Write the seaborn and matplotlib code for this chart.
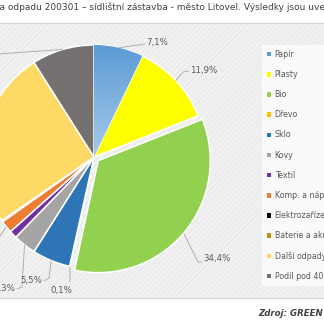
import matplotlib
matplotlib.use("Agg")
import matplotlib.pyplot as plt
from matplotlib.patches import Rectangle, Patch
import numpy as np
import seaborn as sns

# Waste composition, sample of code 200301 (housing estate, Litovel)
categories = ["Papír", "Plasty", "Bio", "Dřevo", "Sklo", "Kovy", "Textil",
              "Komp. a nápojové kartony", "Elektrozařízení",
              "Baterie a akumulátory", "Další odpady", "Podíl pod 40 mm"]
shares = [7.1, 11.9, 34.4, 0.1, 5.5, 3.3, 1.1, 1.8, 0.1, 0.1, 25.6, 9.0]
slice_colors = ["#5B9BD5", "#FFFF00", "#92D050", "#FFC000", "#2E75B6", "#A5A5A5",
                "#7030A0", "#ED7D31", "#000000", "#BF9000", "#FFD966", "#767171"]
explode_frac = [0, 0, 0.05, 0, 0, 0, 0, 0, 0, 0, 0, 0]

title_prefix = "Složení odpadu katalogového čísl"
title_text = (title_prefix + "a odpadu 200301 – sídlištní zástavba - město Litovel. "
              "Výsledky jsou uvedeny v hmotnostních %.")
source_text = "Zdroj: GREEN"

sns.set_theme(style="white")
plt.rcParams["font.family"] = ["DejaVu Sans"]
plt.rcParams["hatch.linewidth"] = 0.35
plt.rcParams["hatch.color"] = "#E1E1E1"

palette = sns.color_palette(slice_colors)

W = H = 324
fig = plt.figure(figsize=(W / 100, H / 100), dpi=100)
fig.patch.set_facecolor("white")
ax = fig.add_axes([0, 0, 1, 1])

# chart area with fine diagonal texture
ax.add_patch(Rectangle((-5, 23), W + 10, 275, facecolor="#F1F1F1", hatch="//////",
                       edgecolor="#E1E1E1", linewidth=0, zorder=0))
ax.add_patch(Rectangle((-5, 23), W + 10, 275, facecolor="none",
                       edgecolor="#D4D4D4", linewidth=0.8, zorder=0.5))

cx, cy, R = 94, 157, 112
wedges, _ = ax.pie(shares, colors=palette, explode=[e * R for e in explode_frac],
                   startangle=-90, counterclock=True, center=(cx, cy), radius=R,
                   wedgeprops=dict(edgecolor="white", linewidth=1.1), frame=True)
for w in wedges:
    w.set_zorder(2)

# soft vertical gradient on the paper slice
pw = wedges[0]
x0, x1 = cx, cx + R * 0.5
c_top = np.array(matplotlib.colors.to_rgb("#5B9BD5"))
c_bot = np.array(matplotlib.colors.to_rgb("#A8CAEA"))
t = np.linspace(0, 1, 64)[:, None, None]
grad = c_top * (1 - t) + c_bot * t
im = ax.imshow(grad, extent=(x0 - 2, x1 + 2, cy + 2, cy - R - 2), origin="upper",
               aspect="auto", zorder=2.5, interpolation="bilinear")
im.set_clip_path(pw)

# data labels with elbow leader lines
label_layout = {
    0: dict(xy=(146, 43), ha="left", path=[(145, 44)]),
    1: dict(xy=(190, 70), ha="left", path=[(183, 72), (189, 71)]),
    2: dict(xy=(203, 259), ha="left", path=[(198, 262), (202, 262)]),
    3: dict(xy=(61, 291), ha="center", path=[(70, 282)]),
    4: dict(xy=(31, 280), ha="center", path=[(49, 278), (44, 281)]),
    5: dict(xy=(4, 289), ha="center", path=[(22, 287), (17, 289)]),
    7: dict(xy=(-30, 272), ha="center", path=[(-20, 265)]),
    11: dict(xy=(-45, 56), ha="center", path=[(-30, 56)]),
}
for i, spec in label_layout.items():
    w = wedges[i]
    mid = np.deg2rad((w.theta1 + w.theta2) / 2)
    wx, wy = w.center
    ax_pt = (wx + w.r * np.cos(mid), wy + w.r * np.sin(mid))
    pts = [ax_pt] + spec["path"]
    ax.plot([p[0] for p in pts], [p[1] for p in pts], color="#A6A6A6",
            linewidth=0.6, zorder=3, solid_capstyle="butt")
    ax.text(spec["xy"][0], spec["xy"][1], f"{shares[i]:.1f}".replace(".", ",") + "%",
            ha=spec["ha"], va="center", fontsize=6.2, color="#595959", zorder=4)

# legend panel
handles = [Patch(facecolor=c, edgecolor="none") for c in palette]
leg = ax.legend(handles, categories, loc="upper left", bbox_to_anchor=(262, 45),
                bbox_transform=ax.transData, fontsize=5.7, frameon=True,
                fancybox=False, handlelength=0.45, handleheight=0.45,
                handletextpad=0.5, labelspacing=1.4, borderpad=0.65,
                borderaxespad=0)
leg.get_frame().set_facecolor("#FAFAFA")
leg.get_frame().set_edgecolor("none")
leg.get_frame().set_alpha(1)
for txt in leg.get_texts():
    txt.set_color("#595959")

# title running in from the left edge
title_size = 6.5
fig.canvas.draw()
renderer = fig.canvas.get_renderer()
probe = ax.text(0, 0, title_prefix, fontsize=title_size)
bb = probe.get_window_extent(renderer)
probe.remove()
ax.text(-bb.width, 10.3, title_text, fontsize=title_size, color="#404040",
        ha="left", va="baseline")

ax.text(258, 313, source_text, fontsize=6.2, color="#404040", fontweight="bold",
        fontstyle="italic", ha="left", va="center")

ax.set_xlim(0, W)
ax.set_ylim(H, 0)
ax.set_aspect("auto")
ax.axis("off")

fig.savefig("out.png", dpi=100)
